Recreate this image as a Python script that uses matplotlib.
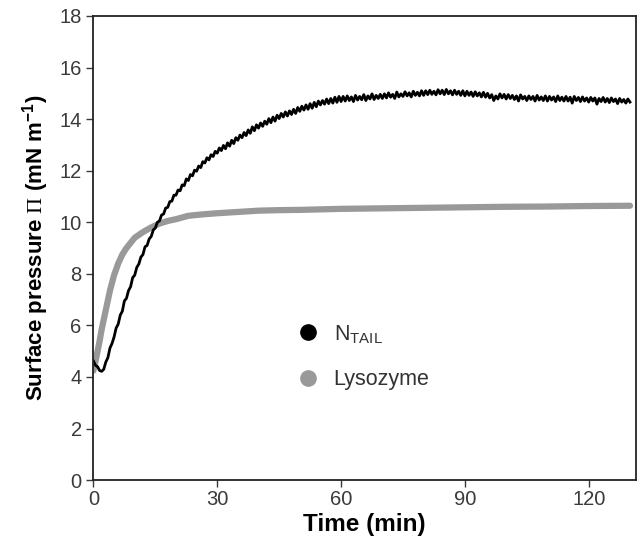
import numpy as np
import matplotlib
matplotlib.use("Agg")
import matplotlib.pyplot as plt
from matplotlib.lines import Line2D

# N_TAIL trace, one reading every half minute (noise included)
ntail_t = np.arange(0, 130.5, 0.5)
ntail_p = [4.62, 4.45, 4.40, 4.25, 4.22, 4.30, 4.58, 4.75, 5.12, 5.30,
           5.55, 5.90, 6.05, 6.40, 6.55, 6.95, 7.05, 7.35, 7.50, 7.85,
           7.95, 8.25, 8.38, 8.65, 8.75, 9.05, 9.10, 9.35, 9.45, 9.70,
           9.78, 10.00, 10.05, 10.28, 10.32, 10.55, 10.58, 10.80, 10.82, 11.05,
           11.05, 11.25, 11.22, 11.45, 11.42, 11.68, 11.62, 11.85, 11.80, 12.02,
           11.98, 12.18, 12.12, 12.35, 12.30, 12.50, 12.42, 12.62, 12.55, 12.75,
           12.68, 12.88, 12.78, 12.98, 12.85, 13.08, 12.95, 13.18, 13.05, 13.28,
           13.18, 13.38, 13.28, 13.48, 13.36, 13.58, 13.45, 13.70, 13.55, 13.78,
           13.65, 13.85, 13.72, 13.92, 13.80, 14.02, 13.86, 14.08, 13.92, 14.15,
           14.02, 14.22, 14.08, 14.28, 14.12, 14.32, 14.18, 14.38, 14.22, 14.45,
           14.30, 14.50, 14.35, 14.55, 14.38, 14.60, 14.42, 14.65, 14.48, 14.70,
           14.55, 14.72, 14.58, 14.78, 14.60, 14.80, 14.62, 14.85, 14.65, 14.88,
           14.68, 14.88, 14.70, 14.90, 14.72, 14.86, 14.68, 14.92, 14.74, 14.88,
           14.75, 14.95, 14.72, 14.90, 14.78, 14.98, 14.76, 14.92, 14.80, 14.96,
           14.80, 14.98, 14.82, 15.02, 14.85, 14.96, 14.80, 15.05, 14.86, 14.98,
           14.88, 15.06, 14.90, 15.02, 14.86, 15.08, 14.92, 15.04, 14.90, 15.10,
           14.92, 15.10, 14.95, 15.12, 14.96, 15.08, 14.94, 15.14, 14.98, 15.12,
           14.95, 15.15, 14.98, 15.10, 14.94, 15.12, 14.96, 15.08, 14.92, 15.10,
           14.90, 15.08, 14.92, 15.05, 14.88, 15.06, 14.90, 15.02, 14.86, 15.04,
           14.85, 15.00, 14.82, 14.95, 14.72, 14.90, 14.78, 14.98, 14.82, 14.96,
           14.78, 14.95, 14.80, 14.92, 14.76, 14.90, 14.70, 14.94, 14.78, 14.88,
           14.72, 14.90, 14.76, 14.88, 14.70, 14.92, 14.74, 14.86, 14.72, 14.90,
           14.70, 14.88, 14.74, 14.86, 14.68, 14.90, 14.72, 14.85, 14.70, 14.88,
           14.70, 14.85, 14.62, 14.88, 14.72, 14.84, 14.68, 14.86, 14.70, 14.82,
           14.66, 14.84, 14.70, 14.82, 14.58, 14.80, 14.68, 14.84, 14.66, 14.80,
           14.64, 14.82, 14.68, 14.78, 14.60, 14.80, 14.66, 14.76, 14.62, 14.78,
           14.66]

# lysozyme trace (smooth)
lys_t = [0, 0.5, 1, 1.5, 2, 3, 4, 5, 6, 7, 8, 9, 10, 12, 14, 16, 18, 20, 23, 26,
         30, 35, 40, 45, 50, 60, 70, 80, 90, 100, 110, 120, 130]
lys_p = [4.25, 4.6, 5.0, 5.4, 5.85, 6.6, 7.35, 7.95, 8.4, 8.75, 9.0, 9.2, 9.4,
         9.62, 9.8, 9.95, 10.05, 10.12, 10.25, 10.3, 10.35, 10.4, 10.45, 10.47,
         10.48, 10.52, 10.54, 10.56, 10.58, 10.6, 10.61, 10.63, 10.64]

x_ticks = [0, 30, 60, 90, 120]
y_ticks = list(range(0, 19, 2))
labels = ['N$_{TAIL}$', 'Lysozyme']

plt.rcParams['font.family'] = ['Liberation Sans', 'DejaVu Sans']
plt.rcParams['mathtext.fontset'] = 'custom'
plt.rcParams['mathtext.rm'] = 'Liberation Serif'
plt.rcParams['mathtext.default'] = 'regular'

fig = plt.figure(figsize=(6.4, 5.5), dpi=100)
ax = fig.add_axes([0.146, 0.127, 0.848, 0.844])

gray = '#999999'
ax.plot(lys_t, lys_p, color=gray, lw=4.5, solid_capstyle='round')
ax.plot(ntail_t, ntail_p, color='black', lw=2.0)

ax.set_xlim(0, 131.5)
ax.set_ylim(0, 18)
ax.set_xticks(x_ticks)
ax.set_yticks(y_ticks)
ax.tick_params(direction='out', length=5, width=1, labelsize=14.5, colors='#3a3a3a')
ax.tick_params(axis='x', pad=2)
for s in ax.spines.values():
    s.set_linewidth(1.3)
    s.set_color('#222222')

ax.set_xlabel('Time (min)', fontsize=17.5, fontweight='bold', labelpad=3)
ax.set_ylabel(r'Surface pressure $\mathrm{\Pi}$ (mN m$^{-1}$)', fontsize=16,
              fontweight='bold', labelpad=6)

handles = [Line2D([], [], ls='none', marker='o', ms=11, color='black'),
           Line2D([], [], ls='none', marker='o', ms=11, color=gray)]
ax.legend(handles, labels, frameon=False, fontsize=15.5,
          loc='center left', bbox_to_anchor=(0.375, 0.266), borderpad=0,
          borderaxespad=0, handlelength=1.0, handletextpad=0.7,
          labelspacing=1.1, labelcolor='#333333')

fig.savefig('out.png', dpi=100)
